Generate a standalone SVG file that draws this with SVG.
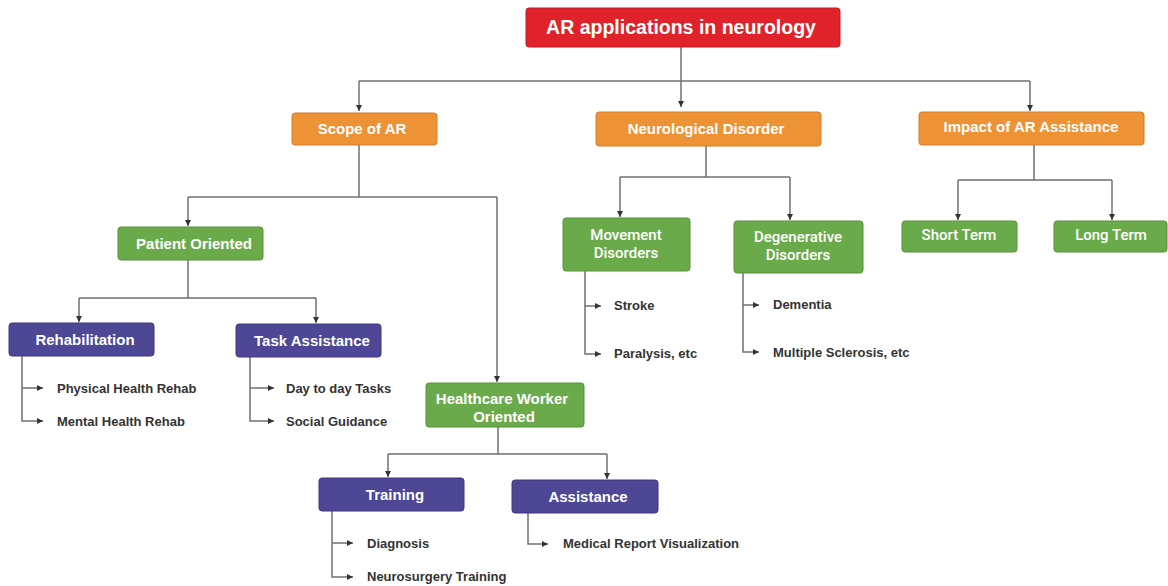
<svg xmlns="http://www.w3.org/2000/svg" width="1168" height="586" viewBox="0 0 1168 586">
<defs>
<marker id="ah" viewBox="0 0 6 6" refX="6" refY="3" markerWidth="6" markerHeight="6" markerUnits="userSpaceOnUse" orient="auto"><path d="M0,0 L6,3 L0,6 z" fill="#333"/></marker>
<style>
.red{fill:#E0232B;stroke:#C21A21;stroke-width:1}
.org{fill:#EE9236;stroke:#D07E2C;stroke-width:1}
.grn{fill:#6BAA4B;stroke:#57913A;stroke-width:1}
.pur{fill:#4D4795;stroke:#3E3980;stroke-width:1}
.t{font-family:"Liberation Sans",Arial,sans-serif;font-weight:bold;fill:#fff;text-anchor:middle;font-size:15px}
.tm{font-family:Roboto,"Liberation Sans",sans-serif;font-weight:500;fill:#fff;text-anchor:middle;font-size:15px}
.lf{font-family:"Liberation Sans",Arial,sans-serif;font-weight:bold;fill:#333;font-size:13px}
.c{fill:none;stroke:#707070;stroke-width:1.5}
.ca{fill:none;stroke:#707070;stroke-width:1.5;marker-end:url(#ah)}
</style>
</defs>
<rect width="1168" height="586" fill="#fff"/>
<g id="connectors">
<path class="ca" d="M681,47 V107"/>
<path class="c" d="M359,81 H1030"/>
<path class="ca" d="M359,81 V111"/>
<path class="ca" d="M1030,81 V111"/>
<path class="c" d="M359,145 V197 M188,197 H497"/>
<path class="ca" d="M188,197 V226"/>
<path class="ca" d="M497,197 V382"/>
<path class="c" d="M188,260 V298 M79,298 H316"/>
<path class="ca" d="M79,298 V322"/>
<path class="ca" d="M316,298 V323"/>
<path class="ca" d="M22,356 V421 H43"/>
<path class="ca" d="M22,388 H43"/>
<path class="ca" d="M250,357 V421 H274"/>
<path class="ca" d="M250,388 H274"/>
<path class="c" d="M498,427 V454 M388,454 H607"/>
<path class="ca" d="M388,454 V477"/>
<path class="ca" d="M607,454 V479"/>
<path class="ca" d="M332,511 V577 H353"/>
<path class="ca" d="M332,543 H353"/>
<path class="ca" d="M528,513 V544 H548"/>
<path class="c" d="M706,146 V177 M620,177 H790"/>
<path class="ca" d="M620,177 V217"/>
<path class="ca" d="M790,177 V220"/>
<path class="ca" d="M585,271 V354 H601"/>
<path class="ca" d="M585,306 H601"/>
<path class="ca" d="M743,273 V352 H759"/>
<path class="ca" d="M743,305 H759"/>
<path class="c" d="M1034,145 V180 M958,180 H1112"/>
<path class="ca" d="M958,180 V220"/>
<path class="ca" d="M1112,180 V220"/>
</g>
<g id="root"><rect class="red" x="526" y="8" width="314" height="39" rx="3"/><text class="t" x="681" y="34" style="font-size:19.5px">AR applications in neurology</text></g>
<g id="scope"><rect class="org" x="292" y="113" width="145" height="32" rx="3"/><text class="t" x="362" y="134">Scope of AR</text></g>
<g id="neuro"><rect class="org" x="596" y="112" width="225" height="34" rx="3"/><text class="t" x="706" y="134">Neurological Disorder</text></g>
<g id="impact"><rect class="org" x="919" y="112" width="225" height="33" rx="3"/><text class="t" x="1031" y="132">Impact of AR Assistance</text></g>
<g id="patient"><rect class="grn" x="118" y="227" width="145" height="33" rx="3"/><text class="t" x="194" y="249">Patient Oriented</text></g>
<g id="rehab"><rect class="pur" x="9" y="323" width="145" height="33" rx="3"/><text class="t" x="85" y="345">Rehabilitation</text></g>
<g id="task"><rect class="pur" x="236" y="324" width="145" height="33" rx="3"/><text class="t" x="312" y="346">Task Assistance</text></g>
<g id="rehab-leaves"><text class="lf" x="57" y="393">Physical Health Rehab</text><text class="lf" x="57" y="426">Mental Health Rehab</text></g>
<g id="task-leaves"><text class="lf" x="286" y="393">Day to day Tasks</text><text class="lf" x="286" y="426">Social Guidance</text></g>
<g id="hcw"><rect class="grn" x="426" y="383" width="158" height="44" rx="3"/><text class="t" x="502" y="404">Healthcare Worker</text><text class="t" x="504" y="422">Oriented</text></g>
<g id="training"><rect class="pur" x="319" y="478" width="145" height="33" rx="3"/><text class="t" x="395" y="500">Training</text></g>
<g id="assistance"><rect class="pur" x="512" y="480" width="146" height="33" rx="3"/><text class="t" x="588" y="502">Assistance</text></g>
<g id="training-leaves"><text class="lf" x="367" y="548">Diagnosis</text><text class="lf" x="367" y="581">Neurosurgery Training</text></g>
<g id="assistance-leaves"><text class="lf" x="563" y="548">Medical Report Visualization</text></g>
<g id="movement"><rect class="grn" x="563" y="218" width="127" height="53" rx="3"/><text class="tm" x="626" y="240">Movement</text><text class="tm" x="626" y="258">Disorders</text></g>
<g id="degenerative"><rect class="grn" x="734" y="221" width="129" height="52" rx="3"/><text class="tm" x="798" y="242">Degenerative</text><text class="tm" x="798" y="260">Disorders</text></g>
<g id="movement-leaves"><text class="lf" x="614" y="310">Stroke</text><text class="lf" x="614" y="358">Paralysis, etc</text></g>
<g id="degenerative-leaves"><text class="lf" x="773" y="309">Dementia</text><text class="lf" x="773" y="357">Multiple Sclerosis, etc</text></g>
<g id="short"><rect class="grn" x="902" y="221" width="115" height="31" rx="3"/><text class="tm" x="959" y="240">Short Term</text></g>
<g id="long"><rect class="grn" x="1054" y="221" width="113" height="31" rx="3"/><text class="tm" x="1111" y="240">Long Term</text></g>
</svg>
